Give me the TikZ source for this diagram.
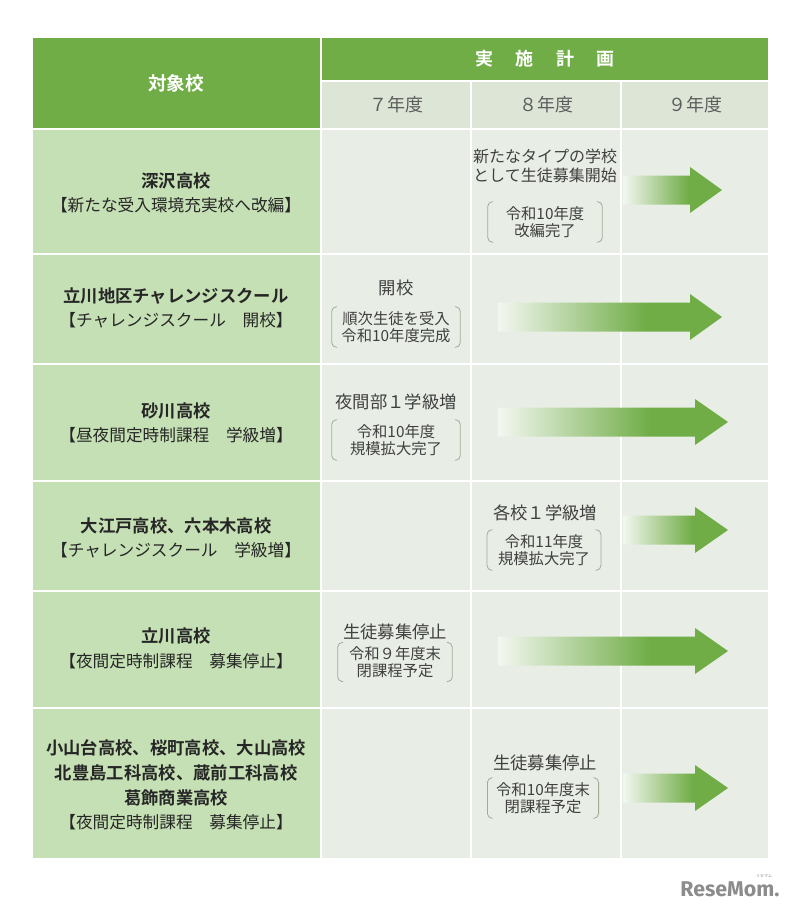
\documentclass[tikz,border=0pt]{standalone}
\usepackage{fontspec}
\setmainfont{Noto Sans CJK JP}[BoldFont={Noto Sans CJK JP Bold}]
\newfontfamily\logofont{Fira Sans}
\usepackage{tikz}
\usetikzlibrary{positioning}

\definecolor{hgreen}{RGB}{112,173,71}
\definecolor{colgreen}{RGB}{197,224,180}
\definecolor{yearbg}{RGB}{220,229,214}
\definecolor{bodybg}{RGB}{232,238,229}
\definecolor{fadestart}{RGB}{243,247,241}
\definecolor{brkgray}{RGB}{160,172,150}
\definecolor{txtgray}{RGB}{64,64,64}

\pgfdeclarehorizontalshading{fadegreen}{100bp}{color(0bp)=(fadestart); color(25bp)=(fadestart); color(58bp)=(hgreen); color(100bp)=(hgreen)}

\newcommand{\sname}[1]{{\fontsize{13}{18}\selectfont\bfseries #1}}

\tikzset{
  school/.style={align=center, text=black!85, font=\fontsize{12.5}{18.5}\selectfont},
  head/.style={text=white, font=\fontsize{14}{16}\selectfont\bfseries},
  year/.style={text=txtgray!85, font=\fontsize{13.5}{16}\selectfont},
  plan/.style={align=center, text=txtgray, inner sep=0pt, font=\fontsize{13}{15}\selectfont},
  note/.style={align=center, text=txtgray, inner sep=0pt, font=\fontsize{11.5}{13.2}\selectfont},
  brk/.style={draw=brkgray, line width=0.6pt, rounded corners=3.5pt},
}

\begin{document}
\begin{tikzpicture}[x=0.75pt, y=-0.75pt]
\useasboundingbox[fill=white] (0,0) rectangle (790,913);

\fill[hgreen] (33,38) rectangle (320,128);
\fill[hgreen] (322,38) rectangle (768,80);
\foreach \xa/\xb in {322/470, 472/620, 622/768}
  \fill[yearbg] (\xa,82) rectangle (\xb,128);
\foreach \ya/\yb in {130/253, 255/363, 365/480, 482/590, 592/707, 709/858} {
  \fill[colgreen] (33,\ya) rectangle (320,\yb);
  \foreach \xa/\xb in {322/470, 472/620, 622/768}
    \fill[bodybg] (\xa,\ya) rectangle (\xb,\yb);
}

\node[head] (target) at (176,83) {対象校};
\node[head, font=\fontsize{13.5}{16}\selectfont\bfseries] (plan) at (545,59)
  {実\hspace{17pt}施\hspace{17pt}計\hspace{17pt}画};
\node[year] (y7) at (396,105) {７年度};
\node[year] (y8) at (546,105) {８年度};
\node[year] (y9) at (695,105) {９年度};

\node[school] (s1) at (176,193) {\sname{深沢高校}\\【新たな受入環境充実校へ改編】};
\node[school] (s2) at (176,308) {\sname{立川地区チャレンジスクール}\\【チャレンジスクール　開校】};
\node[school] (s3) at (176,423) {\sname{砂川高校}\\【昼夜間定時制課程　学級増】};
\node[school] (s4) at (176,538) {\sname{大江戸高校、六本木高校}\\【チャレンジスクール　学級増】};
\node[school] (s5) at (176,648) {\sname{立川高校}\\【夜間定時制課程　募集停止】};
\node[school] (s6) at (176,785) {\sname{小山台高校、桜町高校、大山高校}\\\sname{北豊島工科高校、蔵前工科高校}\\\sname{葛飾商業高校}\\【夜間定時制課程　募集停止】};

\node[plan, font=\fontsize{12}{14.3}\selectfont] (p1) at (545,166) {新たなタイプの学校\\として生徒募集開始};
\node[plan] (p2) at (396,288) {開校};
\node[plan] (p3) at (396,402) {夜間部１学級増};
\node[plan] (p4) at (545,513) {各校１学級増};
\node[plan] (p5) at (395,632) {生徒募集停止};
\node[plan] (p6) at (545,763) {生徒募集停止};

\node[note, minimum width=85.5pt, minimum height=30pt] (b1) at (545,222) {令和10年度\\改編完了};
\node[note, minimum width=96pt, minimum height=30pt] (b2) at (396,327) {順次生徒を受入\\令和10年度完成};
\node[note, minimum width=96pt, minimum height=30pt] (b3) at (396,440) {令和10年度\\規模拡大完了};
\node[note, minimum width=85pt, minimum height=30pt] (b4) at (544,550) {令和11年度\\規模拡大完了};
\node[note, minimum width=85.5pt, minimum height=29pt] (b5) at (395,662) {令和９年度末\\閉課程予定};
\node[note, minimum width=83pt, minimum height=30pt] (b6) at (543,798) {令和10年度末\\閉課程予定};

\foreach \n in {b1,b2,b3,b4,b5,b6} {
  \draw[brk] ([xshift=4pt]\n.north west) -- (\n.north west) -- (\n.south west) -- ([xshift=4pt]\n.south west);
  \draw[brk] ([xshift=-4pt]\n.north east) -- (\n.north east) -- (\n.south east) -- ([xshift=-4pt]\n.south east);
}

\foreach \xs/\xh/\xt/\yc in {623/690/722/190, 498/690/722/317, 498/695/728/422, 623/695/728/530, 498/695/728/651, 623/695/728/788}
  \shade[shading=fadegreen] (\xs,\yc-14.5) -- (\xh,\yc-14.5) -- (\xh,\yc-23) -- (\xt,\yc) -- (\xh,\yc+23) -- (\xh,\yc+14.5) -- (\xs,\yc+14.5) -- cycle;

\node[text=black!45, font=\logofont\fontsize{16}{16}\selectfont\bfseries] (logo) at (730,889) {ReseMom.};
\node[text=black!45, inner sep=0pt, font=\fontsize{3}{3}\selectfont] (logokana) at (764,876) {リセマム};
\end{tikzpicture}
\end{document}
